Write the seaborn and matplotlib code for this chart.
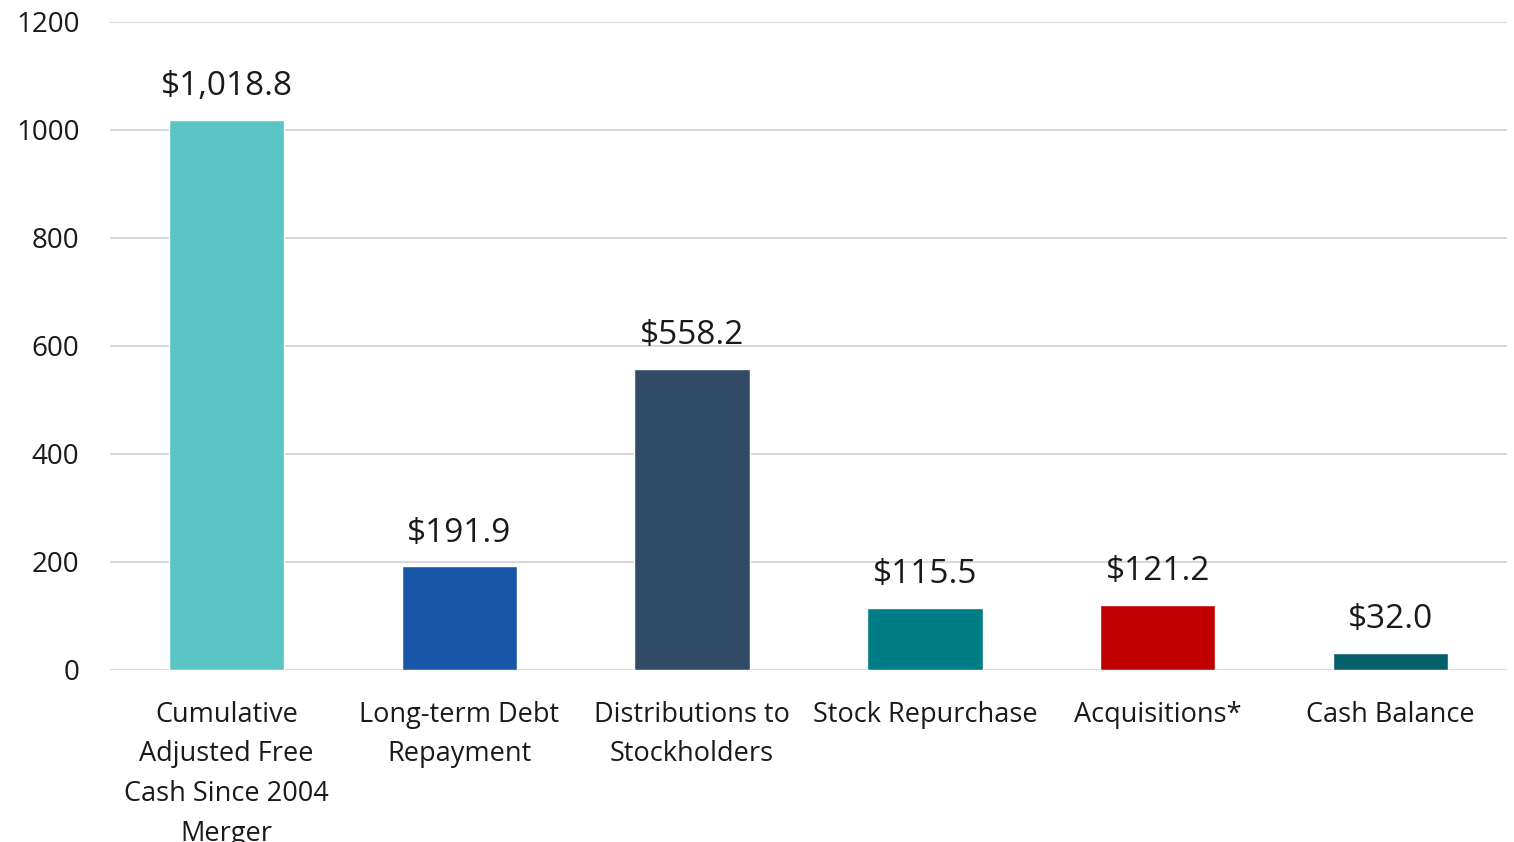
import matplotlib
matplotlib.use("Agg")
import matplotlib.pyplot as plt
import seaborn as sns
import pandas as pd

categories = [
    "Cumulative\nAdjusted Free\nCash Since 2004\nMerger",
    "Long-term Debt\nRepayment",
    "Distributions to\nStockholders",
    "Stock Repurchase",
    "Acquisitions*",
    "Cash Balance",
]
values = [1018.8, 191.9, 558.2, 115.5, 121.2, 32.0]
labels = ["$1,018.8", "$191.9", "$558.2", "$115.5", "$121.2", "$32.0"]
colors = ["#5BC5C5", "#1A56A8", "#314B66", "#007C85", "#C00000", "#06606A"]
yticks = [0, 200, 400, 600, 800, 1000, 1200]

sns.set_theme(style="white")
plt.rcParams["font.family"] = ["Open Sans", "DejaVu Sans"]

df = pd.DataFrame({"cat": categories, "val": values})

fig = plt.figure(figsize=(15.14, 8.42), dpi=100)
ax = fig.add_axes([110 / 1514, 172 / 842, 1397 / 1514, 648 / 842])
sns.barplot(data=df, x="cat", y="val", hue="cat", palette=colors,
            width=0.495, legend=False, ax=ax, saturation=1)

ax.set_ylim(0, 1200)
ax.set_yticks(yticks)
ax.set_yticklabels([str(t) for t in yticks])
ax.yaxis.grid(True, color="#D9D9D9", linewidth=1.5)
ax.set_axisbelow(True)
for s in ax.spines.values():
    s.set_visible(False)
ax.set_xlabel("")
ax.set_ylabel("")
ax.tick_params(axis="y", length=0, pad=22, labelsize=20, colors="#1a1a1a")
ax.tick_params(axis="x", length=0, pad=22, labelsize=19.5, colors="#1a1a1a")
for t in ax.get_xticklabels():
    t.set_linespacing(1.56)
ax.set_xlim(-0.5, len(categories) - 0.5)

for cont, lab in zip(ax.containers, labels):
    ax.bar_label(cont, labels=[lab], padding=12, fontsize=24, color="#1a1a1a")

fig.savefig("out.png", dpi=100)
